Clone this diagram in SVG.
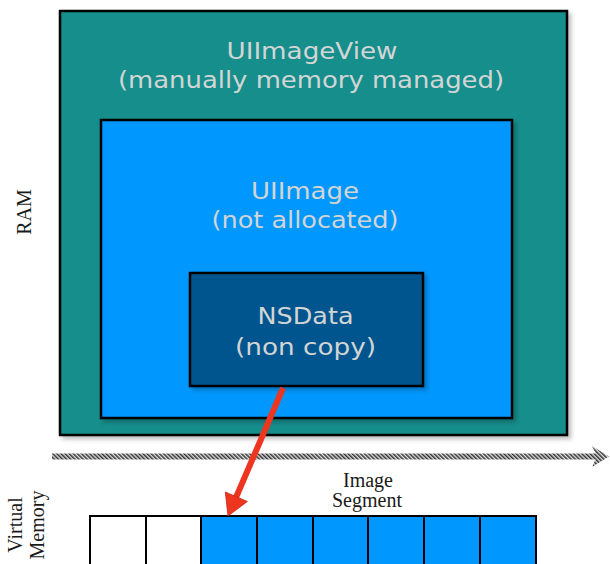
<svg xmlns="http://www.w3.org/2000/svg" width="610" height="564" viewBox="0 0 610 564">
<defs>
<style>
.box{stroke:#000;stroke-width:2.5;filter:url(#sh)}
.bt{font-family:"DejaVu Sans",Verdana,sans-serif;font-size:23.5px;fill:#d3d5d5;text-anchor:middle}
.lbl{font-family:"Liberation Serif","Times New Roman",serif;font-size:20px;fill:#1a1a1a;text-anchor:middle}
.cell{stroke:#000;stroke-width:2}
</style>
<filter id="sh" x="-5%" y="-5%" width="115%" height="115%">
<feDropShadow dx="3" dy="3" stdDeviation="2" flood-color="#000" flood-opacity="0.25"/>
</filter>
<pattern id="hatch" patternUnits="userSpaceOnUse" width="2.9" height="2.9" patternTransform="rotate(-45)">
<rect width="2.9" height="2.9" fill="#e0e0e0"/>
<rect width="1.5" height="2.9" fill="#333"/>
</pattern>
</defs>
<g id="ram-label"><text class="lbl" font-size="18" transform="translate(31,212) rotate(-90)">RAM</text></g>
<g id="uiimageview">
<rect class="box" x="60" y="11" width="507" height="424" fill="#178e8c"/>
<text class="bt" x="312" y="58.5" textLength="171" lengthAdjust="spacingAndGlyphs">UIImageView</text>
<text class="bt" x="311" y="87.5" textLength="386" lengthAdjust="spacingAndGlyphs">(manually memory managed)</text>
</g>
<g id="uiimage">
<rect class="box" x="101" y="120" width="411" height="298" fill="#0098fe"/>
<text class="bt" x="305" y="198.5" textLength="108" lengthAdjust="spacingAndGlyphs" fill="#cfd9e4">UIImage</text>
<text class="bt" x="305" y="227.5" textLength="187" lengthAdjust="spacingAndGlyphs" fill="#cfd9e4">(not allocated)</text>
</g>
<g id="nsdata">
<rect class="box" x="190" y="273" width="233" height="113" fill="#01558f"/>
<text class="bt" x="305.5" y="324" font-size="25" textLength="96" lengthAdjust="spacingAndGlyphs" fill="#cdd2d8">NSData</text>
<text class="bt" x="305.5" y="355" font-size="25" textLength="141" lengthAdjust="spacingAndGlyphs" fill="#cdd2d8">(non copy)</text>
</g>
<g id="timeline">
<rect x="52" y="453.5" width="545" height="6" fill="url(#hatch)"/>
<polygon points="592,446 609,456.5 592,467 597,456.5" fill="url(#hatch)"/>
</g>
<g id="vm-label">
<text class="lbl" transform="translate(22,525) rotate(-90)">Virtual</text>
<text class="lbl" transform="translate(44,525) rotate(-90)">Memory</text>
</g>
<g id="segment-label">
<text class="lbl" font-size="18.5" x="368" y="487">Image</text>
<text class="lbl" font-size="18.5" x="367" y="507">Segment</text>
</g>
<g id="cells">
<rect class="cell" x="90" y="516" width="56" height="60" fill="#fff"/>
<rect class="cell" x="146" y="516" width="55" height="60" fill="#fff"/>
<rect class="cell" x="201" y="516" width="56" height="60" fill="#0098fe"/>
<rect class="cell" x="257" y="516" width="56" height="60" fill="#0098fe"/>
<rect class="cell" x="313" y="516" width="55" height="60" fill="#0098fe"/>
<rect class="cell" x="368" y="516" width="56" height="60" fill="#0098fe"/>
<rect class="cell" x="424" y="516" width="56" height="60" fill="#0098fe"/>
<rect class="cell" x="480" y="516" width="56" height="60" fill="#0098fe"/>
</g>
<g id="connectors">
<line x1="283" y1="388" x2="236" y2="497.5" stroke="#ee3520" stroke-width="6"/>
<polygon points="228,516 247.4,501.5 225.3,492" fill="#ee3520" stroke="#c82a14" stroke-width="0.8" stroke-linejoin="round"/>
</g>
</svg>
